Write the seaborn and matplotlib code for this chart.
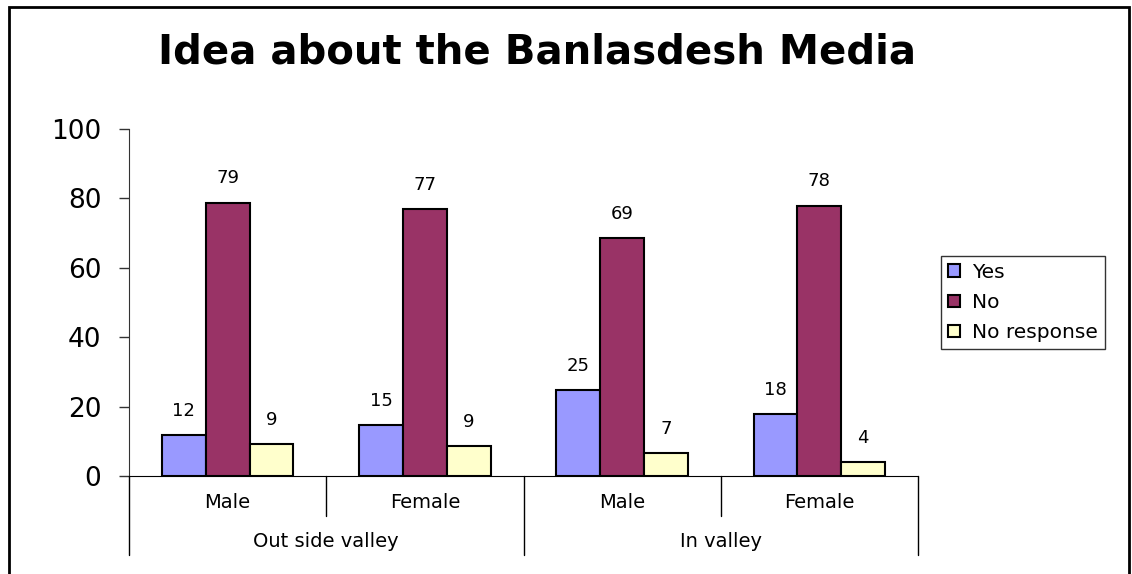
import numpy as np
import pandas as pd
import seaborn as sns
import matplotlib.pyplot as plt
from matplotlib.patches import Rectangle
from matplotlib.transforms import blended_transform_factory

# data
groups = ['Out side valley', 'Out side valley', 'In valley', 'In valley']
genders = ['Male', 'Female', 'Male', 'Female']
yes_vals = [11.7, 14.6, 24.8, 17.8]
no_vals = [78.8, 76.9, 68.6, 77.9]
no_resp_vals = [9.2, 8.7, 6.6, 4.1]
responses = ['Yes', 'No', 'No response']
colors = ['#9999FF', '#993366', '#FFFFCC']

cats = [f'{g}|{s}' for g, s in zip(groups, genders)]
df = pd.DataFrame({
    'cat': cats * 3,
    'Response': np.repeat(responses, len(cats)),
    'value': yes_vals + no_vals + no_resp_vals,
})

sns.set_style('white')
# the reference text is wide (stretched Arial), DejaVu Sans comes closer
plt.rcParams['font.family'] = ['DejaVu Sans']
plt.rcParams['text.color'] = 'black'
plt.rcParams['ytick.color'] = 'black'
plt.rcParams['ytick.labelcolor'] = 'black'

fig = plt.figure(figsize=(11.32, 5.74), dpi=100)
ax = fig.add_axes([0.114, 0.1707, 0.697, 0.6045])

sns.barplot(data=df, x='cat', y='value', hue='Response', order=cats,
            hue_order=responses, palette=colors, width=0.667, gap=0,
            edgecolor='black', linewidth=1.5, saturation=1, ax=ax, legend=True)

for cont in ax.containers:
    ax.bar_label(cont, labels=[f'{b.get_height():.0f}' for b in cont],
                 padding=11, fontsize=13, color='black')

ax.set_xlim(-0.5, 3.5)
ax.set_ylim(0, 100)
ax.set_yticks(range(0, 101, 20))
ax.tick_params(axis='y', labelsize=19, length=7, width=1, direction='out',
               pad=13, left=True, color='#333333')
ax.tick_params(axis='x', length=0, labelbottom=False)
ax.set_xlabel('')
ax.set_ylabel('')
for side in ['top', 'right']:
    ax.spines[side].set_visible(False)
ax.spines['left'].set_color('#333333')
ax.spines['bottom'].set_color('black')

# two-level category axis
trans = blended_transform_factory(ax.transData, ax.transAxes)
for i, s in enumerate(genders):
    ax.text(i, -0.075, s, transform=trans, ha='center', va='center', fontsize=14)
for xc, g in [(0.5, groups[0]), (2.5, groups[2])]:
    ax.text(xc, -0.19, g, transform=trans, ha='center', va='center', fontsize=14)
for xv in [0.5, 2.5]:
    ax.plot([xv, xv], [0, -0.115], transform=trans, color='black', lw=1, clip_on=False)
for xv in [-0.5, 1.5, 3.5]:
    ax.plot([xv, xv], [0, -0.228], transform=trans, color='black', lw=1, clip_on=False)

handles, labels = ax.get_legend_handles_labels()
ax.legend_.remove()
fig.legend(handles, labels, loc='center left', bbox_to_anchor=(0.831, 0.473),
           fontsize=14.5, frameon=True, fancybox=False, edgecolor='black',
           handlelength=0.6, handleheight=0.6, handletextpad=0.6,
           borderpad=0.35, labelspacing=0.55, borderaxespad=0)

fig.text(0.474, 0.89, 'Idea about the Banlasdesh Media', ha='center', va='baseline',
         fontsize=29, fontweight='bold')

fig.patches.append(Rectangle((0.008, -0.1), 0.989, 1.088, transform=fig.transFigure,
                             fill=False, edgecolor='black', lw=2))

fig.savefig('out.png', dpi=100)
